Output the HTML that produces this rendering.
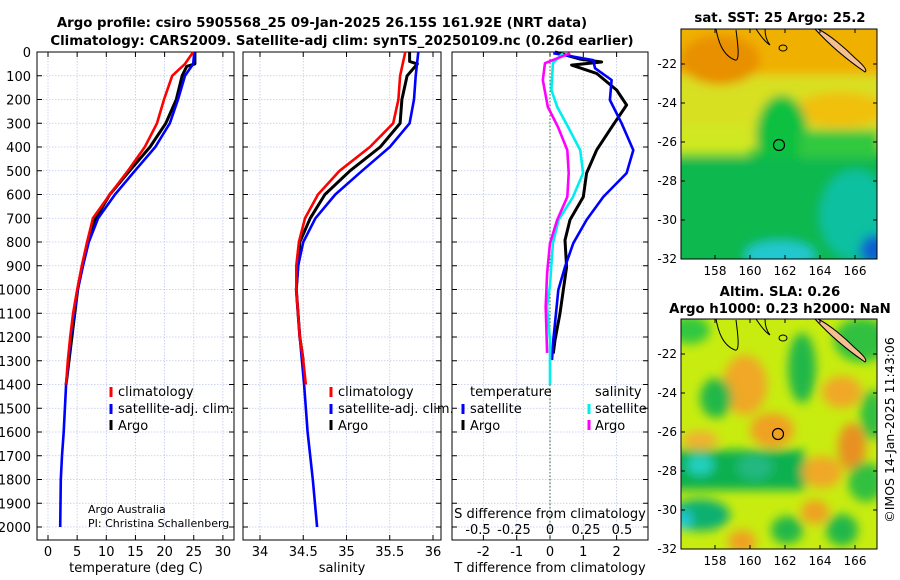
<!DOCTYPE html>
<html><head><meta charset="utf-8">
<style>
html,body{margin:0;padding:0;background:#fff;}
svg{display:block;font-family:"DejaVu Sans","Liberation Sans",sans-serif;}
</style></head>
<body>
<svg id="fig" width="900" height="580" viewBox="0 0 900 580" xmlns="http://www.w3.org/2000/svg">
<defs>
<filter id="blur1" x="-20%" y="-20%" width="140%" height="140%"><feGaussianBlur stdDeviation="5"/></filter>
<clipPath id="clipM1"><rect x="681" y="29" width="196" height="230"/></clipPath>
<clipPath id="clipM2"><rect x="681" y="319" width="196" height="230"/></clipPath>
</defs>
<text x="322" y="27" text-anchor="middle" font-size="13.3" font-weight="bold">Argo profile: csiro 5905568_25 09-Jan-2025 26.15S 161.92E (NRT data)</text>
<text x="342" y="45" text-anchor="middle" font-size="13.3" font-weight="bold">Climatology: CARS2009. Satellite-adj clim: synTS_20250109.nc (0.26d earlier)</text>
<g id="plots"></g>

<!-- SST map -->
<g>
<text x="780" y="22" text-anchor="middle" font-size="13.3" font-weight="bold">sat. SST: 25 Argo: 25.2</text>
<g clip-path="url(#clipM1)">
<rect x="681" y="29" width="196" height="230" fill="#10c040"/>
<g filter="url(#blur1)">
<rect x="670" y="20" width="220" height="130" fill="#d8e020"/>
<rect x="670" y="20" width="220" height="55" fill="#f0b000"/>
<ellipse cx="720" cy="60" rx="40" ry="25" fill="#e89000"/>
<ellipse cx="840" cy="110" rx="45" ry="18" fill="#f0c010"/>
<rect x="670" y="125" width="80" height="30" fill="#d0e820"/>
<ellipse cx="782" cy="135" rx="26" ry="40" fill="#10c040"/>
<rect x="800" y="130" width="80" height="40" fill="#30c840"/>
<rect x="670" y="158" width="220" height="120" fill="#10b850"/>
<ellipse cx="855" cy="215" rx="35" ry="45" fill="#10c0a0"/>
<ellipse cx="780" cy="255" rx="35" ry="14" fill="#20c8d0"/>
<ellipse cx="875" cy="250" rx="15" ry="15" fill="#1060d0"/>
</g>
</g>
<rect x="681" y="29" width="196" height="230" fill="none" stroke="#000" stroke-width="1"/>
<path d="M716,29 C718,40 722,55 735,60 C740,62 738,45 736,30" fill="none" stroke="#000" stroke-width="1"/>
<path d="M756,29 C760,35 765,42 770,45 C766,40 765,33 765,29" fill="none" stroke="#000" stroke-width="1"/>
<path d="M815,29 C825,40 840,55 865,72 C868,70 862,64 855,58 C845,48 830,35 818,29 Z" fill="#f5c090" stroke="#000" stroke-width="1"/>
<ellipse cx="783" cy="48" rx="4" ry="3" fill="none" stroke="#000" stroke-width="1"/>
<circle cx="779" cy="145" r="5.5" fill="none" stroke="#000" stroke-width="1.2"/>
<g id="m1ticks"></g>
</g>

<!-- SLA map -->
<g>
<text x="780" y="296" text-anchor="middle" font-size="13.3" font-weight="bold">Altim. SLA: 0.26</text>
<text x="780" y="313" text-anchor="middle" font-size="13.3" font-weight="bold">Argo h1000: 0.23 h2000: NaN</text>
<g clip-path="url(#clipM2)">
<rect x="681" y="319" width="196" height="230" fill="#c8ec10"/>
<g filter="url(#blur1)">
<ellipse cx="690" cy="330" rx="20" ry="14" fill="#30c840"/>
<ellipse cx="745" cy="385" rx="22" ry="30" fill="#f0a828"/>
<ellipse cx="716" cy="398" rx="16" ry="20" fill="#20b848"/>
<ellipse cx="802" cy="368" rx="14" ry="35" fill="#20b848"/>
<ellipse cx="862" cy="340" rx="28" ry="22" fill="#30c040"/>
<ellipse cx="842" cy="392" rx="20" ry="16" fill="#f0a828"/>
<ellipse cx="872" cy="415" rx="12" ry="25" fill="#30c040"/>
<ellipse cx="772" cy="430" rx="22" ry="17" fill="#f0a020"/>
<ellipse cx="852" cy="447" rx="14" ry="24" fill="#e89020"/>
<ellipse cx="700" cy="440" rx="18" ry="9" fill="#f0b030"/>
<rect x="670" y="450" width="135" height="40" fill="#10b050"/>
<ellipse cx="700" cy="465" rx="14" ry="10" fill="#20d0c0"/>
<ellipse cx="755" cy="467" rx="18" ry="13" fill="#20b880"/>
<ellipse cx="822" cy="472" rx="20" ry="16" fill="#f0a828"/>
<ellipse cx="866" cy="482" rx="18" ry="20" fill="#30c040"/>
<ellipse cx="700" cy="515" rx="30" ry="16" fill="#10b070"/>
<ellipse cx="684" cy="520" rx="8" ry="10" fill="#20c8d8"/>
<ellipse cx="787" cy="530" rx="16" ry="14" fill="#20b848"/>
<ellipse cx="842" cy="530" rx="16" ry="16" fill="#20b848"/>
<ellipse cx="815" cy="512" rx="14" ry="12" fill="#f0a020"/>
<ellipse cx="742" cy="542" rx="14" ry="12" fill="#f0a020"/>
</g>
</g>
<rect x="681" y="319" width="196" height="230" fill="none" stroke="#000" stroke-width="1"/>
<path d="M716,319 C718,330 722,345 735,350 C740,352 738,335 736,320" fill="none" stroke="#000" stroke-width="1"/>
<path d="M756,319 C760,325 765,332 770,335 C766,330 765,323 765,319" fill="none" stroke="#000" stroke-width="1"/>
<path d="M815,319 C825,330 840,345 865,362 C868,360 862,354 855,348 C845,338 830,325 818,319 Z" fill="#f5c090" stroke="#000" stroke-width="1"/>
<ellipse cx="783" cy="338" rx="4" ry="3" fill="none" stroke="#000" stroke-width="1"/>
<circle cx="778" cy="434" r="5.5" fill="none" stroke="#000" stroke-width="1.2"/>
<g id="m2ticks"></g>
</g>
<text transform="translate(894,430) rotate(-90)" text-anchor="middle" font-size="12.5">©IMOS 14-Jan-2025 11:43:06</text>
</svg>
<script>
// ---- data (depth in m) ----
const tClimDepth=[0,50,100,200,300,400,500,600,700,800,900,1000,1100,1200,1300,1400];
const tClim=[24.9,23.5,21.3,19.9,18.7,16.6,13.7,10.6,7.7,6.7,5.8,5.0,4.3,3.8,3.4,3.1];
const tSatDepth=[0,50,100,200,300,400,500,600,700,800,900,1000,1200,1400,1600,1700,1800,2000];
const tSat=[25.1,24.9,23.5,22.3,20.9,18.4,14.9,11.5,8.6,7.0,6.0,5.1,3.9,3.1,2.7,2.4,2.2,2.1];
const tArgoDepth=[0,50,60,100,200,300,400,500,600,700,800,1000,1400];
const tArgo=[25.2,25.2,23.8,23.0,22.0,20.2,17.5,14.0,10.6,8.2,6.8,5.1,3.1];
const sClimDepth=[0,50,100,200,300,400,500,600,700,800,900,1000,1100,1200,1300,1400];
const sClim=[35.68,35.65,35.62,35.60,35.54,35.27,34.92,34.67,34.52,34.45,34.42,34.42,34.44,34.46,34.50,34.53];
const sSatDepth=[0,100,200,300,400,500,600,700,800,900,1000,1200,1400,1600,1800,2000];
const sSat=[35.83,35.80,35.78,35.73,35.50,35.18,34.87,34.64,34.50,34.44,34.42,34.46,34.51,34.55,34.61,34.66];
const sArgoDepth=[0,40,50,100,200,300,400,500,600,700,800,1000,1200,1300];
const sArgo=[35.73,35.73,35.82,35.70,35.64,35.62,35.39,35.04,34.75,34.58,34.46,34.42,34.46,34.50];
const dtArgoDepth=[0,30,42,55,90,160,223,315,413,510,610,707,792,905,1002,1100,1213,1270];
const dtArgo=[0.15,0.9,1.55,0.65,1.4,2.0,2.3,1.86,1.4,1.1,1.0,0.6,0.45,0.5,0.4,0.3,0.15,0.1];
const dtSatDepth=[5,34,68,118,202,300,413,510,610,707,805,905,1002,1100,1213,1297];
const dtSat=[0.1,1.3,1.35,1.85,1.8,2.15,2.5,2.3,1.6,1.1,0.7,0.45,0.25,0.18,0.1,0.06];
const dsSatDepth=[5,47,160,231,315,413,510,610,707,805,982,1073,1213,1400];
const dsSat=[0.09,0.02,0.01,0.05,0.125,0.21,0.23,0.16,0.06,0.02,0.0,-0.02,0.0,0.0];
const dsArgoDepth=[5,47,118,231,315,413,510,610,707,805,932,1073,1267];
const dsArgo=[0.14,-0.035,-0.05,-0.015,0.055,0.12,0.13,0.12,0.05,0.0,-0.02,-0.03,-0.02];
const depthTicks=[0,100,200,300,400,500,600,700,800,900,1000,1100,1200,1300,1400,1500,1600,1700,1800,1900,2000];
const tTicks=[0,5,10,15,20,25,30];
const sTicks=[34,34.5,35,35.5,36];
const dtTicks=[-2,-1,0,1,2];
const dsTicks=[-0.5,-0.25,0,0.25,0.5];
const lonTicks=[158,160,162,164,166];
const latTicks=[-22,-24,-26,-28,-30,-32];

const NS='http://www.w3.org/2000/svg';
const plots=document.getElementById('plots');
function mk(tag,attrs,parent){const e=document.createElementNS(NS,tag);for(const k in attrs)e.setAttribute(k,attrs[k]);(parent||plots).appendChild(e);return e;}
const Y0=52,Y1=527,BT=52,BB=540;
function yD(d){return Y0+(Y1-Y0)*d/2000;}
const P1={l:37,r:234,x:v=>48+v*5.83};
const P2={l:243,r:441,x:v=>260+(v-34)*86.5};
const P3={l:452,r:648,x:v=>550+v*33.3};
const xS3=v=>550+v*144;

function panel(P,name,ticks,grid){
  const g=mk('g',{});
  
  
  depthTicks.forEach(d=>{const y=yD(d);
    mk('line',{x1:P.l,x2:P.r,y1:y,y2:y,stroke:'#c0c8ec','stroke-width':0.8,'stroke-dasharray':'1.5,1.5'},g);
    mk('line',{x1:P.l,x2:P.l+5,y1:y,y2:y,stroke:'#000'},g);
    mk('line',{x1:P.r-5,x2:P.r,y1:y,y2:y,stroke:'#000'},g);});
  grid.forEach(v=>{const x=P.x(v);
    mk('line',{x1:x,x2:x,y1:BT,y2:BB,stroke:'#c0c8ec','stroke-width':0.8,'stroke-dasharray':'1.5,1.5'},g);
    mk('line',{x1:x,x2:x,y1:BB-5,y2:BB,stroke:'#000'},g);
    mk('line',{x1:x,x2:x,y1:BT,y2:BT+5,stroke:'#000'},g);});
  mk('rect',{x:P.l,y:BT,width:P.r-P.l,height:BB-BT,fill:'none',stroke:'#000','stroke-width':1},g);
  return g;
}
function line(g,xf,vals,deps,color,name,w){
  const pts=vals.map((v,i)=>xf(v).toFixed(1)+','+yD(deps[i]).toFixed(1)).join(' ');
  const p=mk('polyline',{points:pts,fill:'none',stroke:color,'stroke-width':w||2.6,'stroke-linejoin':'round'},g);
  
  
}
function txt(g,x,y,s,name,anchor,size){const t=mk('text',{x:x,y:y,'text-anchor':anchor||'middle','font-size':size||13},g);t.textContent=s;
  
  
  return t;}
function legMark(g,x,y,c){mk('line',{x1:x,x2:x,y1:y-11,y2:y-1,stroke:c,'stroke-width':3},g);}

// Panel 1
const g1=panel(P1,'temperature-panel',tTicks,tTicks);
depthTicks.forEach(d=>txt(g1,31,yD(d)+5,String(d),'depth-tick-label','end',13));
tTicks.forEach(v=>txt(g1,P1.x(v),556,String(v),'temperature-tick-label'));
txt(g1,136,572,'temperature (deg C)','temperature-axis-title');
line(g1,P1.x,tArgo,tArgoDepth,'#000','temperature-argo-line',3);
line(g1,P1.x,tSat,tSatDepth,'#0000ff','temperature-satellite-line');
line(g1,P1.x,tClim,tClimDepth,'#ff0000','temperature-climatology-line');
legMark(g1,111,398,'#ff0000');txt(g1,118,396,'climatology','legend-climatology','start');
legMark(g1,111,415,'#0000ff');txt(g1,118,413,'satellite-adj. clim.','legend-satellite','start');
legMark(g1,111,431,'#000');txt(g1,118,430,'Argo','legend-argo','start');
txt(g1,88,513,'Argo Australia','credit-line1','start',11);
txt(g1,88,527,'PI: Christina Schallenberg','credit-line2','start',11);

// Panel 2
const g2=panel(P2,'salinity-panel',sTicks,sTicks);
sTicks.forEach(v=>txt(g2,P2.x(v),556,String(v),'salinity-tick-label'));
txt(g2,342,572,'salinity','salinity-axis-title');
line(g2,P2.x,sArgo,sArgoDepth,'#000','salinity-argo-line',3);
line(g2,P2.x,sSat,sSatDepth,'#0000ff','salinity-satellite-line');
line(g2,P2.x,sClim,sClimDepth,'#ff0000','salinity-climatology-line');
legMark(g2,331,398,'#ff0000');txt(g2,338,396,'climatology','legend-climatology','start');
legMark(g2,331,415,'#0000ff');txt(g2,338,413,'satellite-adj. clim.','legend-satellite','start');
legMark(g2,331,431,'#000');txt(g2,338,430,'Argo','legend-argo','start');

// Panel 3
const g3=panel(P3,'difference-panel',dtTicks,dtTicks);
mk('line',{x1:550,x2:550,y1:BT,y2:BB,stroke:'#336633','stroke-width':1,'stroke-dasharray':'1.5,2'},g3);
dtTicks.forEach(v=>txt(g3,P3.x(v),556,String(v),'t-diff-tick-label'));
dsTicks.forEach(v=>txt(g3,xS3(v),534,String(v),'s-diff-tick-label'));
txt(g3,550,518,'S difference from climatology','s-diff-axis-title');
txt(g3,550,572,'T difference from climatology','t-diff-axis-title');
line(g3,P3.x,dtArgo,dtArgoDepth,'#000','t-diff-argo-line',3);
line(g3,P3.x,dtSat,dtSatDepth,'#0000ff','t-diff-satellite-line');
line(g3,xS3,dsSat,dsSatDepth,'#00eeee','s-diff-satellite-line');
line(g3,xS3,dsArgo,dsArgoDepth,'#ff00ff','s-diff-argo-line');
txt(g3,470,396,'temperature','legend-temperature-header','start');
txt(g3,595,396,'salinity','legend-salinity-header','start');
legMark(g3,463,415,'#0000ff');txt(g3,470,413,'satellite','legend-t-satellite','start');
legMark(g3,463,431,'#000');txt(g3,470,430,'Argo','legend-t-argo','start');
legMark(g3,589,415,'#00eeee');txt(g3,595,413,'satellite','legend-s-satellite','start');
legMark(g3,589,431,'#ff00ff');txt(g3,595,430,'Argo','legend-s-argo','start');

// map ticks
function mapTicks(id,top,bot,prefix){
  const g=document.getElementById(id);
  const lonX=v=>715+(v-158)*17.5;
  const latY=v=>top+35+(-22-v)*(bot-top-35)/10;
  lonTicks.forEach(v=>{const x=lonX(v);
    mk('line',{x1:x,x2:x,y1:bot-4,y2:bot,stroke:'#000'},g);
    mk('line',{x1:x,x2:x,y1:top,y2:top+4,stroke:'#000'},g);
    txt(g,x,bot+16,String(v),prefix+'-lon-tick-label','middle',12);});
  latTicks.forEach(v=>{const y=latY(v);
    mk('line',{x1:681,x2:685,y1:y,y2:y,stroke:'#000'},g);
    mk('line',{x1:873,x2:877,y1:y,y2:y,stroke:'#000'},g);
    txt(g,677,y+4,String(v),prefix+'-lat-tick-label','end',12);});
}
mapTicks('m1ticks',29,259,'sst');
mapTicks('m2ticks',319,549,'sla');
</script>
</body></html>
